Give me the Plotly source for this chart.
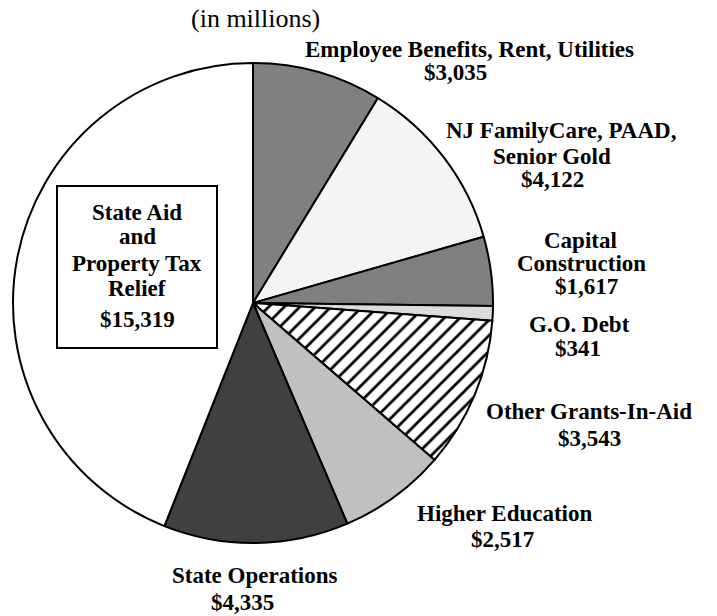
import plotly.graph_objects as go

# ---- data ----
categories = [
    "Employee Benefits, Rent, Utilities",
    "NJ FamilyCare, PAAD, Senior Gold",
    "Capital Construction",
    "G.O. Debt",
    "Other Grants-In-Aid",
    "Higher Education",
    "State Operations",
    "State Aid and Property Tax Relief",
]
values = [3035, 4122, 1617, 341, 3543, 2517, 4335, 15319]
value_labels = ["$3,035", "$4,122", "$1,617", "$341", "$3,543", "$2,517", "$4,335", "$15,319"]
subtitle = "(in millions)"

# ---- styles ----
colors = ["#808080", "#f4f4f4", "#808080", "#dcdcdc", "#ffffff", "#c0c0c0", "#404040", "#ffffff"]
shapes_pat = ["", "", "", "", "/", "", "", ""]

W, H = 717, 616

def px(x):
    return x / W

def py(y):
    return 1 - y / H

fig = go.Figure(go.Pie(
    labels=categories,
    values=values,
    sort=False,
    direction="clockwise",
    rotation=0,
    textinfo="none",
    hoverinfo="label+value",
    marker=dict(
        colors=colors,
        line=dict(color="black", width=2),
        pattern=dict(shape=shapes_pat, fgcolor="black", bgcolor="white",
                     size=11, solidity=0.25, fillmode="replace"),
    ),
    domain=dict(x=[px(13), px(493)], y=[py(543), py(63)]),
))

FONT = "Liberation Serif"
FS = 23

# label lines: (text, cx, cy)
lines = [
    (categories[0], 469, 48), (value_labels[0], 455, 72),
    ("NJ FamilyCare, PAAD,", 561, 129), ("Senior Gold", 552, 155), (value_labels[1], 552, 178),
    ("Capital", 580, 239), ("Construction", 581, 262), (value_labels[2], 586, 286),
    ("G.O. Debt", 579, 323), (value_labels[3], 578, 347),
    (categories[4], 589, 410), (value_labels[4], 589, 437),
    (categories[5], 505, 512), (value_labels[5], 502, 538),
    (categories[6], 255, 574), (value_labels[6], 242, 601),
    ("State Aid", 137, 212), ("and", 137, 236), ("Property Tax", 137, 262),
    ("Relief", 137, 288), (value_labels[7], 137, 319),
]

annotations = []
for t, cx, cy in lines:
    annotations.append(dict(
        text=t, x=px(cx), y=py(cy + 1), xref="paper", yref="paper",
        xanchor="center", yanchor="middle", showarrow=False,
        font=dict(family=FONT, size=FS, color="black", weight="bold"),
    ))

annotations.append(dict(
    text=subtitle, x=px(255), y=py(18), xref="paper", yref="paper",
    xanchor="center", yanchor="middle", showarrow=False,
    font=dict(family=FONT, size=26, color="black"),
))

fig.update_layout(
    width=W, height=H,
    margin=dict(l=0, r=0, t=0, b=0),
    paper_bgcolor="white", plot_bgcolor="white",
    showlegend=False,
    annotations=annotations,
    shapes=[dict(type="rect", xref="paper", yref="paper",
                 x0=px(57), x1=px(217), y0=py(348), y1=py(186),
                 line=dict(color="black", width=2), fillcolor="rgba(0,0,0,0)",
                 layer="above")],
)

fig.write_html("out.html", config={"displayModeBar": False},
               post_script="document.body.style.margin='0';document.body.style.overflow='hidden';")
